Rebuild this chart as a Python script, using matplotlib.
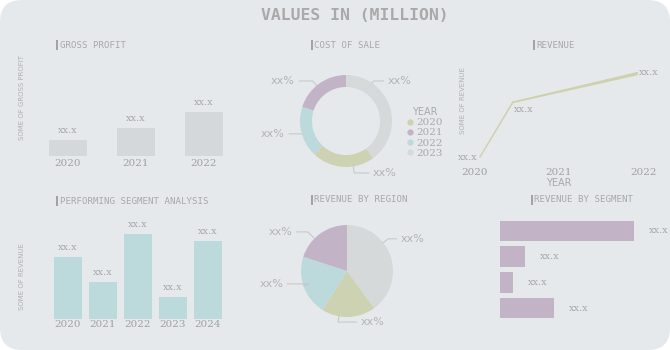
import numpy as np
import matplotlib
matplotlib.use("Agg")
import matplotlib.pyplot as plt
from matplotlib.patches import FancyBboxPatch, Rectangle
from matplotlib.lines import Line2D

# ---- data (placeholders from the mockup) ----
gp_years = ["2020", "2021", "2022"]
gross_profit = [1.6, 2.8, 4.4]

cos_years = ["2020", "2021", "2022", "2023"]
cost_share = [22, 20, 18, 40]

rev_years = [2020.06, 2020.45, 2021.93]
revenue = [0.8, 6.3, 9.2]
rev_ticks = [2020, 2021, 2022]

seg_years = ["2020", "2021", "2022", "2023", "2024"]
seg_revenue = [6.2, 3.7, 8.5, 2.2, 7.8]

region_share = [40, 19, 21, 20]   # gray, olive, teal, purple

segment_revenue = [13.4, 2.5, 1.3, 5.4]

# ---- style ----
BG = "#e6e9ec"
TXT = "#a8a8a8"
GRAY_BAR = "#d5d8da"
TEAL = "#bcdadb"
PURPLE = "#c2b4c6"
OLIVE = "#cdd2b3"
LGRAY = "#d6d9da"
year_colors = [OLIVE, PURPLE, TEAL, LGRAY]

W, H = 670, 350
fig = plt.figure(figsize=(6.7, 3.5), dpi=100)
fig.patch.set_facecolor("white")
fig.add_artist(FancyBboxPatch((0, 0), 6.7, 3.5, boxstyle="round,pad=0,rounding_size=0.22",
                              transform=fig.dpi_scale_trans, fc=BG, ec="none", zorder=-10))


def box(l, t, r, b):
    return [l / W, 1 - b / H, (r - l) / W, (b - t) / H]


def clean(ax):
    for s in ax.spines.values():
        s.set_visible(False)
    ax.set_facecolor("none")
    ax.tick_params(length=0)


def panel_title(x, y, s):
    fig.add_artist(Rectangle((x / W, 1 - (y + 5) / H), 2.2 / W, 10 / H,
                             transform=fig.transFigure, fc="#a3a3a3", ec="none"))
    fig.text((x + 3.5) / W, 1 - y / H, s, family="DejaVu Sans Mono", fontsize=6.6,
             color=TXT, va="center", ha="left")


def ylab(x, y, s):
    fig.text(x / W, 1 - y / H, s, rotation=90, fontsize=5, color="#b0b0b0",
             ha="center", va="center")


serif = "DejaVu Serif"

fig.text(355 / W, 1 - 16 / H, "VALUES IN (MILLION)", family="DejaVu Sans Mono",
         fontsize=11.8, fontweight="bold", color="#a9a9a9", ha="center", va="center")

# ---- gross profit ----
ax = fig.add_axes(box(34, 60, 238, 156))
clean(ax)
x = np.arange(len(gp_years))
ax.bar(x, gross_profit, width=0.55, color=GRAY_BAR)
ax.set_xlim(-0.5, 2.5)
ax.set_ylim(0, 9.6)
ax.set_yticks([])
ax.set_xticks(x, gp_years, family=serif, fontsize=7.5, color="#a0a0a0")
ax.tick_params(axis="x", pad=2)
for i, v in enumerate(gross_profit):
    ax.annotate("xx.x", (i, v), xytext=(0, 6.5), textcoords="offset points",
                ha="center", va="center", family=serif, fontsize=7, color=TXT)
panel_title(56, 45, "GROSS PROFIT")
ylab(22, 97, "SOME OF GROSS PROFIT")

# ---- cost of sale donut ----
ax = fig.add_axes(box(300, 75, 392, 167))
order = [3, 0, 2, 1]
wedges, _ = ax.pie([cost_share[i] for i in order], colors=[year_colors[i] for i in order],
                   startangle=90, counterclock=False, radius=1,
                   wedgeprops=dict(width=0.26, edgecolor="none"))
ax.set_xlim(-1, 1)
ax.set_ylim(-1, 1)
ax.set_aspect("equal")
donut_lbl = [(55.6, (0.91, 0.87), "left"), (-81, (0.59, -1.13), "left"),
             (196, (-1.33, -0.28), "right"), (129.7, (-1.11, 0.87), "right")]
for ang, pos, ha in donut_lbl:
    a = np.deg2rad(ang)
    ax.annotate("xx%", (np.cos(a), np.sin(a)), xytext=pos, ha=ha, va="center",
                fontsize=8, color="#b3b3b3", annotation_clip=False,
                arrowprops=dict(arrowstyle="-", color="#c8c8c8", lw=0.8, shrinkA=1, shrinkB=0,
                                connectionstyle="angle,angleA=0,angleB=%d" % ang))
handles = [Line2D([], [], marker="o", ls="", color=c, markersize=3.5) for c in year_colors]
leg = ax.legend(handles, cos_years, title="YEAR", loc="upper left",
                bbox_to_anchor=(401 / W, 1 - 102 / H), bbox_transform=fig.transFigure,
                frameon=False, prop=dict(family=serif, size=7.5), labelcolor="#a8a8a8",
                labelspacing=0.08, handletextpad=0.2, handlelength=0.8, borderpad=0,
                title_fontsize=7)
leg.get_title().set_color(TXT)
panel_title(311, 45, "COST OF SALE")

# ---- revenue line ----
ax = fig.add_axes(box(458, 60, 660, 165))
clean(ax)
ry = np.array(revenue)
thick = np.array([0.05, 0.12, 0.35])
ax.fill_between(rev_years, ry - thick / 2, ry + thick / 2, color="#cdd2ae", lw=0)
ax.plot(rev_years, revenue, color="#cdd2ae", lw=0.9)
ax.set_xlim(2019.8, 2022.2)
ax.set_ylim(0, 10.5)
ax.set_yticks([])
ax.set_xticks(rev_ticks, [str(t) for t in rev_ticks], family=serif, fontsize=7.5, color="#a0a0a0")
ax.tick_params(axis="x", pad=2)
ax.set_xlabel("YEAR", fontsize=7, color=TXT, labelpad=1)
ax.annotate("xx.x", (rev_years[0], revenue[0]), xytext=(-1.5, 0), textcoords="offset points",
            ha="right", va="center", family=serif, fontsize=7, color=TXT)
ax.annotate("xx.x", (rev_years[1], revenue[1]), xytext=(1, -5.5), textcoords="offset points",
            ha="left", va="center", family=serif, fontsize=7, color=TXT)
ax.annotate("xx.x", (rev_years[2], revenue[2]), xytext=(1, 0.5), textcoords="offset points",
            ha="left", va="center", family=serif, fontsize=7, color=TXT)
panel_title(533, 45, "REVENUE")
ylab(463, 100, "SOME OF REVENUE")

# ---- performing segment analysis ----
ax = fig.add_axes(box(50.5, 215, 225.5, 319))
clean(ax)
x = np.arange(len(seg_years))
ax.bar(x, seg_revenue, width=0.8, color=TEAL)
ax.set_xlim(-0.5, 4.5)
ax.set_ylim(0, 10.4)
ax.set_yticks([])
ax.set_xticks(x, seg_years, family=serif, fontsize=7.5, color="#a0a0a0")
ax.tick_params(axis="x", pad=1)
for i, v in enumerate(seg_revenue):
    ax.annotate("xx.x", (i, v), xytext=(0, 6.5), textcoords="offset points",
                ha="center", va="center", family=serif, fontsize=7, color=TXT)
panel_title(56, 201, "PERFORMING SEGMENT ANALYSIS")
ylab(22, 276, "SOME OF REVENUE")

# ---- revenue by region pie ----
ax = fig.add_axes(box(301, 225, 393, 317))
ax.pie(region_share, colors=[LGRAY, OLIVE, TEAL, PURPLE], startangle=90, counterclock=False,
       radius=1, wedgeprops=dict(edgecolor="none"))
ax.set_xlim(-1, 1)
ax.set_ylim(-1, 1)
ax.set_aspect("equal")
pie_lbl = [(38, (1.17, 0.70), "left"), (260, (0.30, -1.11), "left"),
           (199, (-1.39, -0.28), "right"), (135, (-1.19, 0.85), "right")]
for ang, pos, ha in pie_lbl:
    a = np.deg2rad(ang)
    ax.annotate("xx%", (np.cos(a), np.sin(a)), xytext=pos, ha=ha, va="center",
                fontsize=8, color="#b3b3b3", annotation_clip=False,
                arrowprops=dict(arrowstyle="-", color="#c8c8c8", lw=0.8, shrinkA=1, shrinkB=0,
                                connectionstyle="angle,angleA=0,angleB=%d" % ang))
panel_title(311, 200, "REVENUE BY REGION")

# ---- revenue by segment ----
ax = fig.add_axes(box(500, 218, 660, 321))
clean(ax)
y = np.arange(len(segment_revenue))
ax.barh(y, segment_revenue, height=0.8, color=PURPLE)
ax.set_xlim(0, 16)
ax.set_ylim(3.5, -0.5)
ax.set_xticks([])
ax.set_yticks([])
for i, v in enumerate(segment_revenue):
    ax.annotate("xx.x", (v, i), xytext=(11, 0), textcoords="offset points",
                ha="left", va="center", family=serif, fontsize=7, color=TXT)
panel_title(531, 200, "REVENUE BY SEGMENT")

fig.savefig("out.png", dpi=100, facecolor=fig.get_facecolor())
